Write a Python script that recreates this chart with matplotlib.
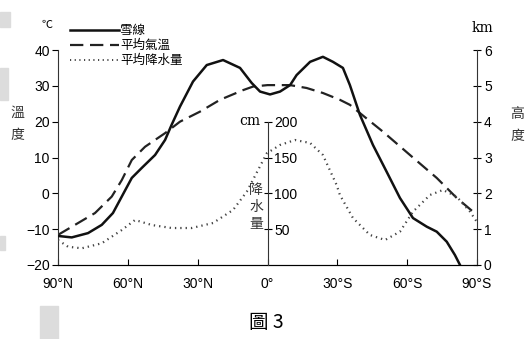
import matplotlib.pyplot as plt
from matplotlib.lines import Line2D
from matplotlib.patches import Rectangle

plt.rcParams['font.family'] = ['Liberation Sans Narrow', 'Liberation Sans', 'DejaVu Sans']
CJK = ['Noto Sans CJK TC', 'DejaVu Sans']

# latitude: negative = north, positive = south
snow_lat = [-89.9, -84.1, -77.1, -71.2, -66.4, -62.6, -58.3, -54.0, -48.3, -44.0, -41.2,
            -37.6, -32.0, -26.1, -19.1, -11.8, -6.8, -3.2, 1.1, 5.4, 9.7, 12.5, 18.3,
            23.8, 28.1, 32.4, 35.4, 39.7, 45.3, 51.2, 56.9, 62.5, 68.4, 72.7, 77.0,
            80.5, 82.7]
snow_km = [0.81, 0.77, 0.89, 1.12, 1.45, 1.91, 2.43, 2.71, 3.07, 3.49, 3.91,
           4.42, 5.12, 5.58, 5.72, 5.50, 5.08, 4.84, 4.76, 4.84, 5.02, 5.30, 5.67,
           5.81, 5.67, 5.50, 5.02, 4.19, 3.35, 2.60, 1.87, 1.31, 1.07, 0.93, 0.65,
           0.28, 0.0]

temp_lat = [-90, -82.7, -74.1, -66.9, -62.6, -58.3, -52.6, -44.0, -37.6, -29.0, -20.4,
            -10.5, -6.2, 0, 9.7, 16.8, 23.8, 31.1, 35.4, 39.7, 49.6, 61.2, 72.7, 81.3, 89.9]
temp_c = [-11.6, -8.8, -5.5, -0.9, 3.7, 9.3, 13.0, 16.8, 20.0, 22.8, 26.1,
          28.8, 29.8, 30.2, 30.2, 29.4, 28.0, 26.1, 24.7, 22.4, 17.2, 10.7, 4.3, -1.3, -6.0]

rain_lat = [-90, -85.7, -79.8, -71.2, -62.6, -56.9, -49.7, -41.2, -32.6, -23.4, -14.8,
            -8.9, -0.3, 5.4, 11.8, 18.3, 23.8, 29.7, 31.1, 36.7, 44.0, 50.5, 56.9,
            62.5, 69.8, 75.4, 81.3, 87.0, 89.9]
rain_cm = [34.9, 25.5, 23.3, 30.3, 48.8, 62.8, 55.8, 51.6, 51.6, 58.6, 76.8,
           102.3, 155.9, 167.5, 174.4, 170.3, 153.5, 111.6, 97.7, 65.6, 41.9, 34.9, 46.5,
           74.4, 97.7, 104.7, 95.3, 74.4, 60.4]

lat_ticks = [-90, -60, -30, 0, 30, 60, 90]
lat_labels = ['90°N', '60°N', '30°N', '0°', '30°S', '60°S', '90°S']

fig = plt.figure(figsize=(5.31, 3.39), dpi=100)
ax = fig.add_axes([58 / 531, 74 / 339, 419 / 531, 215 / 339])

# temperature axis (left)
ax.plot(temp_lat, temp_c, color='#222222', lw=1.6, ls=(0, (6, 3)))
ax.set_xlim(-90, 90)
ax.set_ylim(-20, 40)
ax.set_yticks(range(-20, 41, 10))
ax.set_xticks(lat_ticks)
ax.set_xticklabels(lat_labels)
ax.spines['top'].set_visible(False)
ax.spines['right'].set_visible(False)
ax.tick_params(axis='y', direction='out', length=4, labelsize=10, pad=2)
ax.tick_params(axis='x', direction='in', length=4, labelsize=10, pad=9)
for s in ax.spines.values():
    s.set_color('#333333')

# snow line height axis (right)
ax2 = ax.twinx()
ax2.plot(snow_lat, snow_km, color='#111111', lw=1.8)
ax2.set_ylim(0, 6)
ax2.set_yticks(range(0, 7))
ax2.spines['top'].set_visible(False)
ax2.spines['left'].set_visible(False)
ax2.spines['right'].set_color('#333333')
ax2.tick_params(axis='y', direction='inout', length=6, labelsize=10, pad=2)

# precipitation axis through the equator
ax3 = ax.twinx()
ax3.plot(rain_lat, rain_cm, color='#444444', lw=1.6, ls=(0, (0.6, 1.8)))
ax3.set_ylim(0, 300)
ax3.set_yticks([50, 100, 150, 200])
for k in ['top', 'left', 'bottom']:
    ax3.spines[k].set_visible(False)
ax3.spines['right'].set_position(('data', 0))
ax3.spines['right'].set_bounds(0, 200)
ax3.spines['right'].set_color('#333333')
ax3.tick_params(axis='y', direction='inout', length=6, labelsize=10, pad=2)

# axis titles
fig.text(47 / 531, 1 - 25 / 339, '℃', fontsize=8, ha='center', va='center', family=CJK)
fig.text(482 / 531, 1 - 28 / 339, 'km', fontsize=10, ha='center', va='center', family='DejaVu Serif')
fig.text(17 / 531, 1 - 124 / 339, '溫\n度', fontsize=10, ha='center', va='center',
         family=CJK, linespacing=1.8, color='#333333')
fig.text(517 / 531, 1 - 125 / 339, '高\n度', fontsize=10, ha='center', va='center',
         family=CJK, linespacing=1.8, color='#333333')
fig.text(256 / 531, 1 - 207 / 339, '降\n水\n量', fontsize=10, ha='center', va='center',
         family=CJK, linespacing=1.3, color='#333333')
fig.text(250 / 531, 1 - 121 / 339, 'cm', fontsize=10, ha='center', va='center', family='DejaVu Serif')
fig.text(266 / 531, 1 - 322 / 339, '圖 3', fontsize=14, ha='center', va='center', family=CJK)

# legend
handles = [Line2D([], [], color='#111111', lw=1.8),
           Line2D([], [], color='#222222', lw=1.6, ls=(0, (6, 3))),
           Line2D([], [], color='#444444', lw=1.4, ls=(0, (0.6, 1.8)))]
labels = ['雪線', '平均氣溫', '平均降水量']
leg = fig.legend(handles, labels, loc='upper left', bbox_to_anchor=(64 / 531, 1 - 18 / 339),
                 frameon=False, handlelength=3.9, handletextpad=0.1, labelspacing=0.15,
                 borderpad=0, prop={'family': CJK, 'size': 9})

# scanner marks on the left edge
for x0, y0, w, h in [(0, 12, 10, 15), (0, 68, 8, 32), (0, 236, 5, 14), (40, 306, 18, 33)]:
    fig.patches.append(Rectangle((x0 / 531, 1 - (y0 + h) / 339), w / 531, h / 339,
                                 transform=fig.transFigure, color='#dcdcdc', zorder=0))

fig.savefig('out.png', dpi=100)
